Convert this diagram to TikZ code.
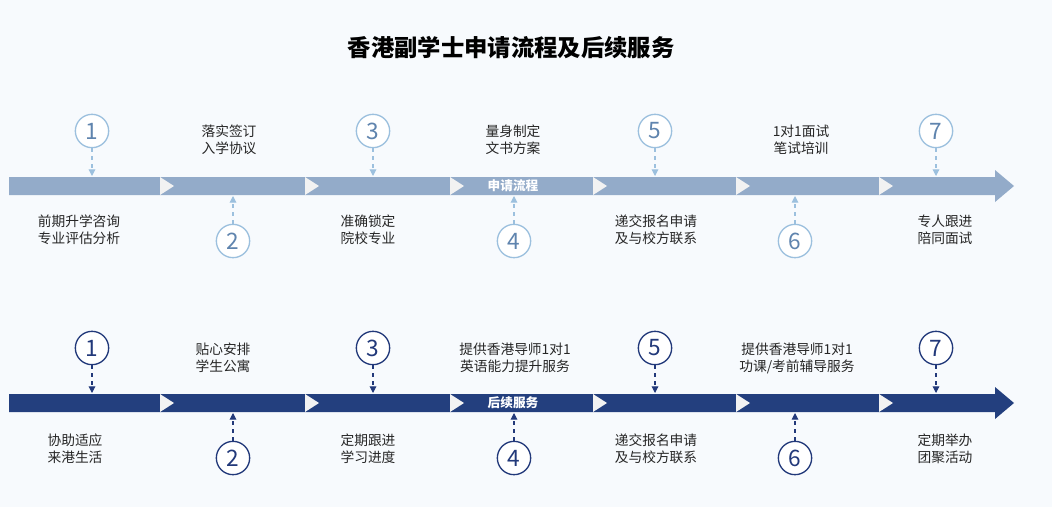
\documentclass[tikz,border=0pt]{standalone}
\usepackage{fontspec}
\setmainfont{Noto Sans CJK SC}
\usetikzlibrary{arrows.meta}
\definecolor{barA}{HTML}{93ABC9}
\definecolor{cirA}{HTML}{9CC0DE}
\definecolor{numA}{HTML}{5F84AE}
\definecolor{barB}{HTML}{233F7E}
\definecolor{cirB}{HTML}{22397A}
\definecolor{bgc}{HTML}{F7FAFD}
\begin{document}
\begin{tikzpicture}[x=0.75pt,y=-0.75pt,
  txt/.style={font=\fontsize{10.3}{12.8}\selectfont,align=center,text=black!85},
  numc/.style={circle,draw,line width=1pt,fill=white,minimum size=25pt,inner sep=0pt,font=\fontsize{17}{17}\selectfont}]
\useasboundingbox (0,0) rectangle (1052,507);
\fill[bgc] (0,0) rectangle (1052,507);
\node[font=\bfseries\fontsize{17.5}{20}\selectfont] (title) at (511,48) {香港副学士申请流程及后续服务};
\foreach \Y/\bc/\cc/\nc/\lab/\tag in {186/barA/cirA/numA/申请流程/a,403/barB/cirB/cirB/后续服务/b}{
  \fill[\bc] (9,\Y-9) -- (995,\Y-9) -- (995,\Y-16) -- (1014,\Y) -- (995,\Y+16) -- (995,\Y+9) -- (9,\Y+9) -- cycle;
  \foreach \cx in {160,305,450,593,736,879}
    \fill[white!90!gray] (\cx,\Y-9) -- (\cx+14,\Y) -- (\cx,\Y+9) -- cycle;
  \node[text=white,font=\bfseries\fontsize{9.5}{10}\selectfont] (lab\tag) at (513,\Y) {\lab};
  \foreach \i/\x in {1/92,3/373,5/655,7/936}{
    \node[numc,draw=\cc,text=\nc] (c\tag\i) at (\x,\Y-55) {\i};
    \coordinate (p\tag\i) at (\x,\Y-10);
    \draw[\cc,dashed,line width=0.8pt,-{Triangle[length=5pt,width=5pt]}] (c\tag\i) -- (p\tag\i);
  }
  \foreach \i/\x in {2/233,4/514,6/795}{
    \node[numc,draw=\cc,text=\nc] (c\tag\i) at (\x,\Y+55) {\i};
    \coordinate (p\tag\i) at (\x,\Y+10);
    \draw[\cc,dashed,line width=0.8pt,-{Triangle[length=5pt,width=5pt]}] (c\tag\i) -- (p\tag\i);
  }
}
\node[txt] (ta1) at (79,230) {前期升学咨询\\专业评估分析};
\node[txt] (ta2) at (229,140) {落实签订\\入学协议};
\node[txt] (ta3) at (368,230) {准确锁定\\院校专业};
\node[txt] (ta4) at (513,140) {量身制定\\文书方案};
\node[txt] (ta5) at (656,230) {递交报名申请\\及与校方联系};
\node[txt] (ta6) at (801,140) {1对1面试\\笔试培训};
\node[txt] (ta7) at (945,230) {专人跟进\\陪同面试};
\node[txt] (tb1) at (75,449) {协助适应\\来港生活};
\node[txt] (tb2) at (223,358) {贴心安排\\学生公寓};
\node[txt] (tb3) at (368,449) {定期跟进\\学习进度};
\node[txt] (tb4) at (515,358) {提供香港导师1对1\\英语能力提升服务};
\node[txt] (tb5) at (656,449) {递交报名申请\\及与校方联系};
\node[txt] (tb6) at (797,358) {提供香港导师1对1\\功课/考前辅导服务};
\node[txt] (tb7) at (945,449) {定期举办\\团聚活动};
\end{tikzpicture}
\end{document}
